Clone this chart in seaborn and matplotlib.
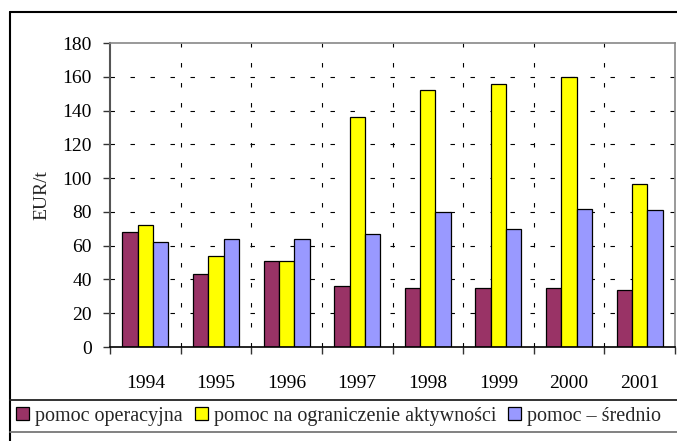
import matplotlib
matplotlib.use("Agg")
import matplotlib.pyplot as plt
from matplotlib.lines import Line2D
from matplotlib.patches import Patch
import seaborn as sns
import pandas as pd
import numpy as np

years = ["1994", "1995", "1996", "1997", "1998", "1999", "2000", "2001"]
series_names = ["pomoc operacyjna", "pomoc na ograniczenie aktywności", "pomoc – średnio"]
operacyjna = [68, 43, 51, 36, 35, 35, 35, 34]
ograniczenie = [72, 54, 51, 136, 152, 156, 160, 96.5]
srednio = [62, 64, 64, 67, 80, 70, 81.5, 81]
colors = ["#993366", "#FFFF00", "#9999FF"]
y_ticks = [0, 20, 40, 60, 80, 100, 120, 140, 160, 180]
y_label = "EUR/t"

df = pd.DataFrame({
    "year": years * 3,
    "value": operacyjna + ograniczenie + srednio,
    "series": [series_names[0]] * 8 + [series_names[1]] * 8 + [series_names[2]] * 8,
})

sns.set_theme(style="white")
plt.rcParams["font.family"] = ["Liberation Serif", "DejaVu Serif"]

W, H = 677, 441
fig = plt.figure(figsize=(W / 100, H / 100), dpi=100)
ax = fig.add_axes([110 / W, 1 - 347 / H, 565 / W, 304 / H])

sns.barplot(data=df, x="year", y="value", hue="series", hue_order=series_names,
            palette=colors, width=0.65, gap=0, edgecolor="black", linewidth=0.9,
            saturation=1, ax=ax, legend=False)

ax.set_xlim(-0.5, len(years) - 0.5)
ax.set_ylim(0, 180)
ax.set_yticks(y_ticks)
ax.set_yticklabels([str(v) for v in y_ticks])
ax.set_xlabel("")
ax.set_ylabel(y_label, fontsize=14)
ax.yaxis.set_label_coords(-0.106, 0.5)

# grid lines
for v in y_ticks[1:-1]:
    ax.axhline(v, color="black", lw=0.8, dashes=(4, 14), zorder=0.5)
for b in np.arange(0.5, len(years) - 0.5, 1):
    ax.axvline(b, color="black", lw=0.8, dashes=(4, 14), zorder=0.5)

ax.set_xticks(np.arange(-0.5, len(years), 1), minor=True)
ax.tick_params(axis="x", which="minor", length=5, width=1, color="#333333", direction="out", bottom=True)
ax.tick_params(axis="x", which="major", length=0, pad=20, labelsize=14)
ax.tick_params(axis="y", which="major", length=5, width=1, color="#333333", direction="out", left=True, pad=8, labelsize=14)
for t in ax.get_xticklabels() + ax.get_yticklabels():
    t.set_color("black")

for s in ["top", "right"]:
    ax.spines[s].set_color("#888888")
    ax.spines[s].set_linewidth(1.2)
ax.spines["left"].set_color("#555555")
ax.spines["left"].set_linewidth(1.5)
ax.spines["bottom"].set_color("black")
ax.spines["bottom"].set_linewidth(1.2)

# outer frame and legend box lines (pixel coords -> figure fraction)
def fx(x):
    return x / W

def fy(y):
    return 1 - y / H

fig.add_artist(Line2D([fx(10), fx(W + 5)], [fy(12), fy(12)], color="black", lw=1.5))
fig.add_artist(Line2D([fx(10), fx(10)], [fy(12), fy(H + 5)], color="black", lw=1.5))
fig.add_artist(Line2D([fx(10), fx(W + 5)], [fy(400), fy(400)], color="#222222", lw=1.3))
fig.add_artist(Line2D([fx(10), fx(W + 5)], [fy(432), fy(432)], color="#777777", lw=1.3))

handles = [Patch(facecolor=c, edgecolor="black", linewidth=0.9) for c in colors]
fig.legend(handles, series_names, loc="center left",
           bbox_to_anchor=(fx(16), fy(416)), ncol=3, frameon=False,
           fontsize=14.5, handlelength=0.64, handleheight=0.62,
           handletextpad=0.3, columnspacing=0.6, borderpad=0, borderaxespad=0)

fig.savefig("out.png", dpi=100)
